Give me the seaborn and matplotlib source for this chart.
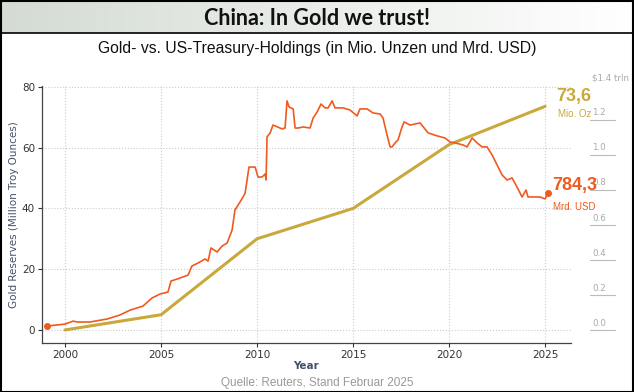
import numpy as np
import matplotlib
matplotlib.use('Agg')
import matplotlib.pyplot as plt
import seaborn as sns
from matplotlib.patches import Rectangle
import matplotlib.transforms as mtransforms

# Goldreserven (Mio. Unzen)
gold_years = [2000, 2005, 2010, 2015, 2020, 2025]
gold_moz = [0, 5, 30, 40, 61, 73.6]

# US-Treasury-Holdings China (Mrd. USD)
ust_years = [1999.06, 2000.0, 2000.42, 2000.63, 2001.3, 2002.19, 2002.86, 2003.39, 2004.06, 2004.53,
             2004.95, 2005.36, 2005.52, 2005.83, 2006.41, 2006.61, 2006.93, 2007.29, 2007.45, 2007.6,
             2007.92, 2008.18, 2008.44, 2008.7, 2008.85, 2009.11, 2009.27, 2009.38, 2009.48, 2009.58,
             2009.9, 2010.05, 2010.26, 2010.42, 2010.47, 2010.52, 2010.68, 2010.83, 2011.3, 2011.46,
             2011.56, 2011.67, 2011.88, 2011.98, 2012.14, 2012.4, 2012.76, 2012.92, 2013.13, 2013.33,
             2013.54, 2013.7, 2013.91, 2014.06, 2014.48, 2014.84, 2015.21, 2015.36, 2015.73, 2015.89,
             2016.04, 2016.41, 2016.56, 2016.77, 2016.93, 2017.03, 2017.19, 2017.34, 2017.55, 2017.66,
             2017.97, 2018.49, 2018.91, 2019.38, 2019.79, 2020.05, 2020.31, 2020.73, 2020.94, 2021.2,
             2021.46, 2021.72, 2021.98, 2022.24, 2022.5, 2022.76, 2023.02, 2023.28, 2023.54, 2023.8,
             2024.01, 2024.11, 2024.48, 2024.74, 2025.0, 2025.16]
ust_bn = [23, 34, 51, 46, 46, 63, 86, 114, 137, 183,
          206, 217, 280, 291, 314, 366, 383, 406, 394, 469,
          446, 480, 497, 571, 686, 731, 760, 783, 857, 931,
          931, 874, 874, 891, 857, 1103, 1126, 1171, 1149, 1154,
          1309, 1274, 1263, 1154, 1154, 1160, 1154, 1211, 1246, 1291,
          1269, 1269, 1309, 1269, 1269, 1257, 1223, 1263, 1263, 1251,
          1240, 1234, 1211, 1114, 1046, 1046, 1069, 1086, 1160, 1189,
          1171, 1183, 1126, 1109, 1097, 1074, 1069, 1057, 1046, 1097,
          1069, 1046, 1046, 1000, 943, 886, 857, 869, 817, 760,
          800, 760, 760, 760, 749, 784.3]

right_ticks = [0, 200, 400, 600, 800, 1000, 1200, 1400]
right_labels = ['0.0', '0.2', '0.4', '0.6', '0.8', '1.0', '1.2', '$1.4 trln']

GOLD = '#c9a93b'
ORANGE = '#f05a1e'
SLATE = '#44506a'

sns.set_theme(style='ticks')
plt.rcParams['font.family'] = ['DejaVu Sans']

fig = plt.figure(figsize=(6.34, 3.92), dpi=100)
W, H = 634, 392

# Kopfzeile mit Verlauf
hax = fig.add_axes([0, 1 - 33 / H, 1, 33 / H])
grad = np.linspace(0, 1, 256)
c0 = np.array([0.83, 0.86, 0.83])
c1 = np.array([1.0, 1.0, 1.0])
img = c0[None, :] + (c1 - c0)[None, :] * grad[:, None]
hax.imshow(img[None, :, :], aspect='auto', extent=[0, 1, 0, 1])
hax.set_axis_off()
hax.text(0.5, 0.45, 'China: In Gold we trust!', ha='center', va='center',
         fontsize=15.5, fontweight='bold', family=['Lato', 'DejaVu Sans'], color='#111111')
fig.add_artist(plt.Line2D([0, 1], [1 - 33 / H, 1 - 33 / H], color='black', lw=1.2))

fig.text(0.5, 1 - 49 / H, 'Gold- vs. US-Treasury-Holdings (in Mio. Unzen und Mrd. USD)',
         ha='center', va='center', fontsize=11.3, family=['Liberation Sans', 'DejaVu Sans'], color='#111111')

ax = fig.add_axes([42 / W, 1 - 343 / H, 529 / W, 257 / H])
sns.lineplot(x=gold_years, y=gold_moz, ax=ax, color=GOLD, linewidth=2.2)
ax.set_xlim(1998.8, 2026.35)
ax.set_ylim(-4.3, 80.3)
ax.set_xticks([2000, 2005, 2010, 2015, 2020, 2025])
ax.set_yticks([0, 20, 40, 60, 80])
ax.grid(True, linestyle=':', color='#cccccc', linewidth=0.8)
ax.tick_params(labelsize=7.5, colors='#333333', length=3, width=0.8, pad=2)
ax.set_xlabel('Year', fontsize=7.5, color=SLATE, fontweight='semibold', labelpad=1)
ax.set_ylabel('Gold Reserves (Million Troy Ounces)', fontsize=7.5, color=SLATE, labelpad=2)
for s in ['top', 'right']:
    ax.spines[s].set_visible(False)
for s in ['left', 'bottom']:
    ax.spines[s].set_color('#444444')
    ax.spines[s].set_linewidth(0.9)

ax2 = ax.twinx()
sns.lineplot(x=ust_years, y=ust_bn, ax=ax2, color=ORANGE, linewidth=1.2)
ax2.plot([ust_years[0], ust_years[-1]], [ust_bn[0], ust_bn[-1]], 'o', color=ORANGE, markersize=4)
ax2.set_ylim(-74, 1394)
ax2.set_yticks([])
ax2.set_ylabel('')
for s in ax2.spines.values():
    s.set_visible(False)

# Rechte Achsenbeschriftung (Mrd./Bio. USD)
tr = mtransforms.blended_transform_factory(ax2.transAxes, ax2.transData)
for v, lab in zip(right_ticks, right_labels):
    if v < 1400:
        ax2.plot([1.036, 1.083], [v, v], transform=tr, color='#bbbbbb', lw=0.8, clip_on=False)
    ax2.text(1.04, v + 40, lab, transform=tr, ha='left', va='center', fontsize=6.3,
             color='#aaaaaa', family=['Liberation Sans Narrow', 'DejaVu Sans'], clip_on=False,
             zorder=1)

# Endwerte
ax.text(2025.6, 76.8, '73,6', fontsize=13, fontweight='bold', color=GOLD,
        family=['Liberation Sans', 'DejaVu Sans'], ha='left', va='center')
ax.text(2025.65, 71.0, 'Mio. Oz', fontsize=7, color=GOLD,
        family=['Liberation Sans', 'DejaVu Sans'], ha='left', va='center')
ax2.text(2025.35, 824, '784,3', fontsize=13, fontweight='bold', color=ORANGE,
         family=['Liberation Sans', 'DejaVu Sans'], ha='left', va='center', zorder=5)
ax2.text(2025.4, 700, 'Mrd. USD', fontsize=7, color=ORANGE,
         family=['Liberation Sans', 'DejaVu Sans'], ha='left', va='center')

fig.text(0.5, 1 - 383 / H, 'Quelle: Reuters, Stand Februar 2025', ha='center', va='center',
         fontsize=8.5, color='#999999', family=['Liberation Sans', 'DejaVu Sans'])

fig.add_artist(Rectangle((0.001, 0.001), 0.997, 0.997, transform=fig.transFigure,
                         fill=False, edgecolor='black', lw=1.5))

fig.savefig('out.png', dpi=100)
